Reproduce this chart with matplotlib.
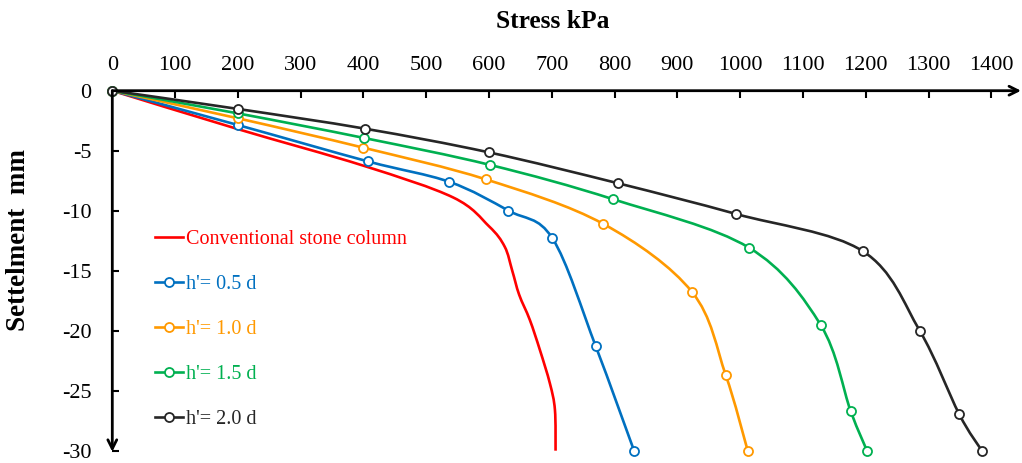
import numpy as np
import matplotlib
matplotlib.use('Agg')
import matplotlib.pyplot as plt
from matplotlib.path import Path
from matplotlib.patches import PathPatch
from matplotlib.lines import Line2D

plt.rcParams['font.family'] = ['Liberation Serif', 'DejaVu Serif']
plt.rcParams['axes.unicode_minus'] = False

# Datos (esfuerzo kPa, asentamiento mm)
stress_conv = [0, 200, 400, 543, 600, 625, 637, 648, 665, 681, 697, 705, 706]
settle_conv = [0, -3.2, -6.25, -8.9, -11.3, -13.0, -15.0, -17.0, -19.1, -21.6, -24.4, -26.6, -30]

stress_05 = [0, 200, 407, 537, 631, 701, 770, 831]
settle_05 = [0, -2.86, -5.89, -7.6, -10.0, -12.3, -21.3, -30]

stress_10 = [0, 200, 400, 595, 782, 923, 977, 1012]
settle_10 = [0, -2.3, -4.75, -7.39, -11.1, -16.75, -23.7, -30]

stress_15 = [0, 200, 401, 602, 798, 1014, 1128, 1176, 1202]
settle_15 = [0, -1.89, -3.94, -6.19, -9.05, -13.08, -19.5, -26.7, -30]

stress_20 = [0, 200, 403, 600, 806, 994, 1195, 1286, 1349, 1385]
settle_20 = [0, -1.52, -3.17, -5.14, -7.72, -10.28, -13.36, -20.0, -26.97, -30]

labels = ["Conventional stone column", "h'= 0.5 d", "h'= 1.0 d", "h'= 1.5 d", "h'= 2.0 d"]
colores = ['#FF0000', '#0070C0', '#FF9900', '#00B050', '#262626']
x_ticks = list(range(0, 1401, 100))
y_ticks = list(range(0, -31, -5))


def curva_suave(ax, xs, ys, color, lw):
    """Línea suavizada tipo Excel (Catmull-Rom -> Bezier)."""
    p = np.column_stack([xs, ys]).astype(float)
    n = len(p)
    verts = [p[0]]
    codes = [Path.MOVETO]
    for i in range(n - 1):
        p0 = p[i - 1] if i > 0 else p[i]
        p3 = p[i + 2] if i + 2 < n else p[i + 1]
        c1 = p[i] + (p[i + 1] - p0) / 6.0
        c2 = p[i + 1] - (p3 - p[i]) / 6.0
        verts += [c1, c2, p[i + 1]]
        codes += [Path.CURVE4] * 3
    patch = PathPatch(Path(verts, codes), fill=False, edgecolor=color,
                      lw=lw, clip_on=False, capstyle='butt', joinstyle='round')
    ax.add_patch(patch)


fig = plt.figure(figsize=(10.22, 4.63), dpi=100)
W, H = 1022, 463
x0, x1 = 112.3, 991.3
ytop, ybot = 90.7, 450.7
ax = fig.add_axes([x0 / W, 1 - ybot / H, (x1 - x0) / W, (ybot - ytop) / H])
ax.set_xlim(0, 1400)
ax.set_ylim(-30, 0)

series = [
    (stress_conv, settle_conv, False),
    (stress_05, settle_05, True),
    (stress_10, settle_10, True),
    (stress_15, settle_15, True),
    (stress_20, settle_20, True),
]

handles = []
for (xs, ys, con_marca), color, lab in zip(series, colores, labels):
    curva_suave(ax, xs, ys, color, 1.9)
    if con_marca:
        ax.plot(xs, ys, linestyle='none', marker='o', markersize=6.5,
                markerfacecolor='white', markeredgecolor=color,
                markeredgewidth=1.3, clip_on=False, zorder=3)
        handles.append(Line2D([], [], color=color, lw=1.9, marker='o', markersize=6.5,
                              markerfacecolor='white', markeredgecolor=color,
                              markeredgewidth=1.3, label=lab))
    else:
        handles.append(Line2D([], [], color=color, lw=1.9, label=lab))

# Ejes con flechas
for s in ax.spines.values():
    s.set_visible(False)
ax.annotate('', xy=((1021 - x0) / (x1 - x0), 1), xytext=(0, 1),
            xycoords='axes fraction', textcoords='axes fraction',
            arrowprops=dict(arrowstyle='->', lw=2, color='black',
                            mutation_scale=16, shrinkA=0, shrinkB=0))
ax.annotate('', xy=(0, -0.003), xytext=(0, 1),
            xycoords='axes fraction', textcoords='axes fraction',
            arrowprops=dict(arrowstyle='->', lw=2, color='black',
                            mutation_scale=16, shrinkA=0, shrinkB=0))

ax.xaxis.tick_top()
ax.set_xticks(x_ticks)
ax.set_yticks(y_ticks)
ax.tick_params(axis='x', direction='in', length=5, width=1.5, pad=11, labelsize=16)
ax.tick_params(axis='y', direction='in', length=5, width=1.5, pad=15, labelsize=16)

fig.text(553 / W, 1 - 21 / H, 'Stress kPa', ha='center', va='center',
         fontsize=18.3, fontweight='bold')
fig.text(19 / W, 1 - 240 / H, 'Settelment  mm', ha='center', va='center',
         rotation=90, fontsize=19.5, fontweight='bold')

leg = ax.legend(handles=handles, loc='upper left',
                bbox_to_anchor=(155 / W, 1 - 230 / H), bbox_transform=fig.transFigure,
                frameon=False, fontsize=14.5, labelcolor='linecolor',
                handlelength=1.4, handletextpad=0.15, labelspacing=1.29,
                borderpad=0, borderaxespad=0)

fig.savefig('out.png', dpi=100)
